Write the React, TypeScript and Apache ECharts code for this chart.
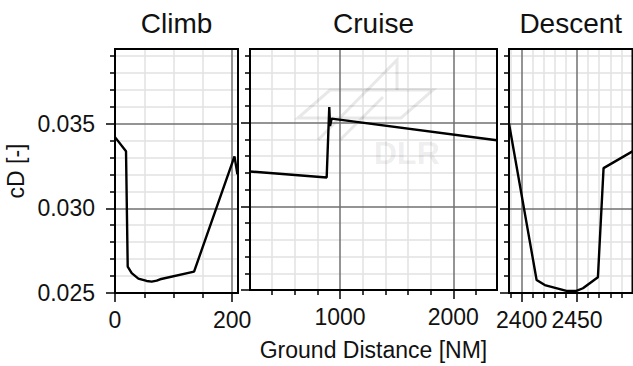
import React, { useEffect, useRef } from 'react';
import * as echarts from 'echarts';

const panelTitles = ['Climb', 'Cruise', 'Descent'];

const climbX = [0, 18.8, 21.7, 28.5, 39.9, 54, 62.7, 71.3, 77, 135, 204, 209];
const climbY = [0.0342, 0.03336, 0.02656, 0.02617, 0.02585, 0.02571, 0.02567, 0.02573, 0.02581, 0.02626, 0.03306, 0.032];

const cruiseX = [206, 882, 905, 912, 926, 2383];
const cruiseY = [0.03208, 0.03172, 0.03593, 0.0348, 0.03524, 0.03395];

const descentX = [2388.6, 2413.5, 2420.9, 2440.4, 2449.4, 2455.3, 2468.8, 2473.9, 2500];
const descentY = [0.035, 0.02577, 0.02547, 0.02512, 0.02512, 0.02528, 0.02593, 0.03237, 0.03336];

const yMajorTicks = [0.025, 0.03, 0.035];
const yMinorTicks = [0.026, 0.027, 0.028, 0.029, 0.031, 0.032, 0.033, 0.034, 0.036, 0.037, 0.038, 0.039];

const climbMajorX = [0, 200];
const climbMinorX = [50, 100, 150];
const cruiseMajorX = [1000, 2000];
const cruiseMinorX = [400, 600, 800, 1200, 1400, 1600, 1800, 2200];
const descentMajorX = [2400, 2450];
const descentMinorX = [2390, 2410, 2420, 2430, 2440, 2460, 2470, 2480, 2490];

const xRanges = [[0, 210], [205, 2386], [2388.6, 2500]];
const yRange = [0.025, 0.0394];

const FONT = '"Liberation Sans", Arial, Helvetica, sans-serif';

export default function App() {
  const ref = useRef<HTMLDivElement>(null);
  useEffect(() => {
    if (!ref.current) return;
    const chart = echarts.init(ref.current, undefined, { renderer: 'svg' });
    const gridLayout = [
      { left: 115, top: 49, width: 123, height: 244 },
      { left: 250, top: 49, width: 247, height: 244 },
      { left: 509, top: 49, width: 123.5, height: 244 },
    ];
    const majorX = [climbMajorX, cruiseMajorX, descentMajorX];
    const minorX = [climbMinorX, cruiseMinorX, descentMinorX];
    const seriesX = [climbX, cruiseX, descentX];
    const seriesY = [climbY, cruiseY, descentY];

    const grid = gridLayout.map((g) => ({
      ...g,
      show: true,
      z: 3,
      borderColor: '#000',
      borderWidth: 2,
      backgroundColor: 'transparent',
    }));

    const xAxis: any[] = [];
    const yAxis: any[] = [];
    for (let i = 0; i < 3; i++) {
      xAxis.push({
        type: 'value',
        gridIndex: i,
        position: 'bottom',
        min: xRanges[i][0],
        max: xRanges[i][1],
        z: 0,
        axisLine: { show: false },
        axisTick: { show: true, customValues: minorX[i], length: 5, lineStyle: { color: '#000', width: 1.5 } },
        axisLabel: { show: false },
        splitLine: { show: true, lineStyle: { color: '#e2e2e2', width: 1.5 } },
      });
      xAxis.push({
        type: 'value',
        gridIndex: i,
        position: 'bottom',
        min: xRanges[i][0],
        max: xRanges[i][1],
        z: 1,
        axisLine: { show: false },
        axisTick: { show: true, customValues: majorX[i], length: 9, lineStyle: { color: '#000', width: 1.5 } },
        axisLabel: {
          show: true,
          customValues: majorX[i],
          showMinLabel: true,
          showMaxLabel: true,
          hideOverlap: false,
          margin: 15,
          fontSize: 23,
          color: '#111',
          fontFamily: FONT,
          formatter: (v: number) => String(Math.round(v)),
        },
        splitLine: { show: true, lineStyle: { color: '#707070', width: 1.5 } },
        name: i === 1 ? 'Ground Distance [NM]' : '',
        nameLocation: 'middle',
        nameGap: 48,
        nameTextStyle: { fontSize: 23, color: '#111', fontFamily: FONT },
      });
      yAxis.push({
        type: 'value',
        gridIndex: i,
        position: 'left',
        min: yRange[0],
        max: yRange[1],
        z: 0,
        axisLine: { show: false },
        axisTick: { show: true, customValues: yMinorTicks, length: 5, lineStyle: { color: '#000', width: 1.5 } },
        axisLabel: { show: false },
        splitLine: { show: true, lineStyle: { color: '#e2e2e2', width: 1.5 } },
      });
      yAxis.push({
        type: 'value',
        gridIndex: i,
        position: 'left',
        min: yRange[0],
        max: yRange[1],
        z: 1,
        axisLine: { show: false },
        axisTick: { show: true, customValues: yMajorTicks, length: 9, lineStyle: { color: '#000', width: 1.5 } },
        axisLabel: {
          show: i === 0,
          customValues: yMajorTicks,
          showMinLabel: true,
          showMaxLabel: true,
          margin: 20,
          fontSize: 23,
          color: '#111',
          fontFamily: FONT,
          formatter: (v: number) => v.toFixed(3),
        },
        splitLine: { show: true, lineStyle: { color: '#707070', width: 1.5 } },
        name: i === 0 ? 'cD [-]' : '',
        nameLocation: 'middle',
        nameGap: 88,
        nameTextStyle: { fontSize: 23, color: '#111', fontFamily: FONT },
      });
    }

    const series = [0, 1, 2].map((i) => ({
      type: 'line',
      xAxisIndex: 2 * i + 1,
      yAxisIndex: 2 * i + 1,
      data: seriesX[i].map((x, k) => [x, seriesY[i][k]]),
      showSymbol: false,
      symbol: 'none',
      z: 2,
      lineStyle: { color: '#000', width: 2.4 },
    }));

    const titleCenters = gridLayout.map((g) => g.left + g.width / 2);
    const title = panelTitles.map((t, i) => ({
      text: t,
      left: titleCenters[i],
      top: 9,
      padding: 0,
      textAlign: 'center',
      textStyle: { fontSize: 28, fontWeight: 'normal', color: '#111', fontFamily: FONT },
    }));

    const wm = 'rgba(0,0,0,0.09)';
    const wmStyle = { fill: 'none', stroke: wm, lineWidth: 3 };
    const graphic = [
      { type: 'polygon', z: 1, silent: true, shape: { points: [[298, 118], [330, 90], [433, 90], [401, 118]] }, style: wmStyle },
      { type: 'polyline', z: 1, silent: true, shape: { points: [[318, 140], [397, 60], [397, 90]] }, style: wmStyle },
      { type: 'polyline', z: 1, silent: true, shape: { points: [[340, 140], [383, 97]] }, style: wmStyle },
      {
        type: 'text',
        z: 1,
        silent: true,
        left: 374,
        top: 137,
        style: { text: 'DLR', fontSize: 32, fontWeight: 'bold', fill: 'rgba(0,0,0,0.08)', fontFamily: FONT },
      },
    ];

    chart.setOption({
      animation: false,
      backgroundColor: '#fff',
      title,
      grid,
      xAxis,
      yAxis,
      series,
      graphic,
    } as any);
    return () => chart.dispose();
  }, []);
  return <div ref={ref} style={{ position: 'absolute', left: 0, top: 0, width: 633, height: 366 }} />;
}
